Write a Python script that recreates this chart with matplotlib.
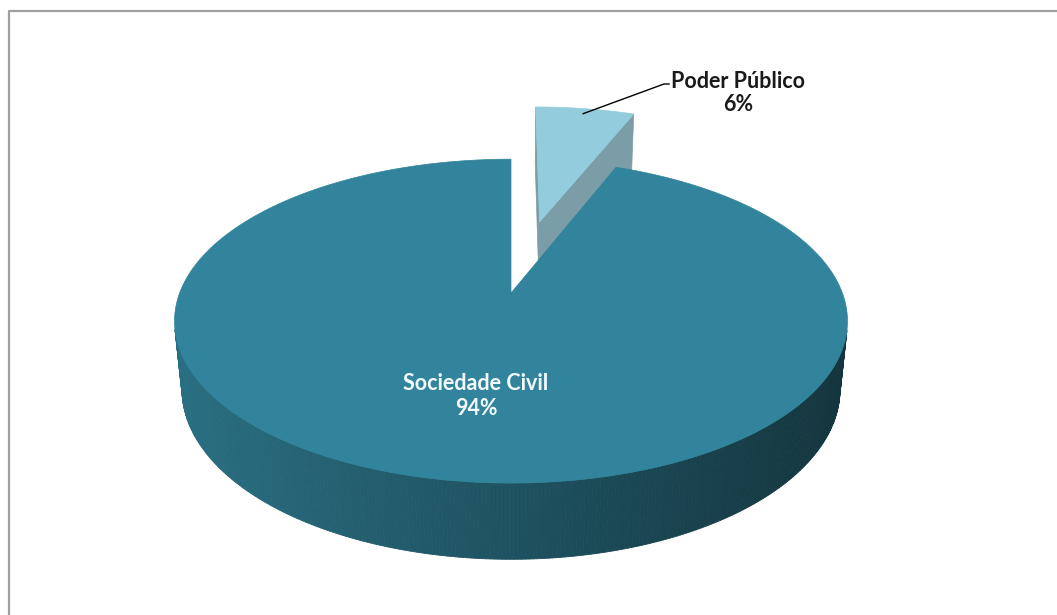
import numpy as np
import matplotlib
matplotlib.use("Agg")
from matplotlib import pyplot as plt
from matplotlib.patches import Polygon

labels = ["Poder Público", "Sociedade Civil"]
shares = [6, 94]
explode = [0.50, 0.0]

top_colors = ["#93CDDD", "#31849B"]
cut_colors = ["#7A9DA7", "#2A6F83"]

# camera / projection (pixel units)
W, H = 1057, 615
CX, CY = 511, 293
SIN_E = 0.474
COS_E = np.sqrt(1 - SIN_E ** 2)
DIST = 5.07
FOC = 1680.0
DEPTH = 0.236
CAM = np.array([0.0, -DIST * COS_E, DIST * SIN_E])


def project(x, y, z):
    d = DIST + y * COS_E - z * SIN_E
    return CX + FOC * x / d, CY - FOC * (y * SIN_E + z * COS_E) / d


def side_shade(color, sx):
    k = 0.84 - 0.44 * np.clip((sx - 175) / 670.0, 0, 1)
    rgb = np.array(matplotlib.colors.to_rgb(color))
    return tuple(rgb * k)


fig = plt.figure(figsize=(W / 100, H / 100), dpi=100)
ax = fig.add_axes([0, 0, 1, 1])
ax.set_xlim(0, W)
ax.set_ylim(H, 0)
ax.axis("off")

# chart frame
ax.plot([9, 9, W], [H, 11, 11], color="#a0a0a0", lw=1.6, solid_capstyle="butt")

fracs = np.array(shares, dtype=float) / sum(shares)
starts = np.concatenate([[0], np.cumsum(fracs)[:-1]]) * 2 * np.pi
ends = np.cumsum(fracs) * 2 * np.pi

slices = []
for i in range(len(shares)):
    mid = (starts[i] + ends[i]) / 2
    ox, oy = explode[i] * np.sin(mid), explode[i] * np.cos(mid)
    slices.append((i, starts[i], ends[i], mid, ox, oy))

# farthest slice first
slices.sort(key=lambda s: -(s[5] + 0.5 * np.cos(s[3])))

for i, a0, a1, mid, ox, oy in slices:
    th = np.linspace(a0, a1, max(int((a1 - a0) / 0.01), 4))
    rx = ox + np.sin(th)
    ry = oy + np.cos(th)

    # outer wall, drawn as narrow strips
    for j in range(len(th) - 1):
        t = (th[j] + th[j + 1]) / 2
        px, py = ox + np.sin(t), oy + np.cos(t)
        if np.sin(t) * (CAM[0] - px) + np.cos(t) * (CAM[1] - py) <= 0:
            continue
        xs = [rx[j], rx[j + 1], rx[j + 1], rx[j]]
        ys = [ry[j], ry[j + 1], ry[j + 1], ry[j]]
        zs = [0, 0, -DEPTH, -DEPTH]
        pts = [project(a, b, c) for a, b, c in zip(xs, ys, zs)]
        col = side_shade(top_colors[i], np.mean([p[0] for p in pts]))
        ax.add_patch(Polygon(pts, closed=True, fc=col, ec=col, lw=0.6))

    # cut faces
    for ang, sgn in ((a0, -1), (a1, 1)):
        nx, ny = sgn * np.cos(ang), -sgn * np.sin(ang)
        if nx * (CAM[0] - ox) + ny * (CAM[1] - oy) <= 1e-6:
            continue
        ex, ey = ox + np.sin(ang), oy + np.cos(ang)
        pts = [project(ox, oy, 0), project(ex, ey, 0),
               project(ex, ey, -DEPTH), project(ox, oy, -DEPTH)]
        ax.add_patch(Polygon(pts, closed=True, fc=cut_colors[i], ec=cut_colors[i], lw=0.5))

    # top face
    pts = [project(ox, oy, 0)] + [project(a, b, 0) for a, b in zip(rx, ry)]
    ax.add_patch(Polygon(pts, closed=True, fc=top_colors[i], ec=top_colors[i], lw=0.5))

font = ["Lato", "DejaVu Sans"]

# label for the exploded slice with leader line
i = 0
mid = (starts[i] + ends[i]) / 2
ox, oy = explode[i] * np.sin(mid), explode[i] * np.cos(mid)
lx, ly = project(ox + 0.95 * np.sin(mid), oy + 0.95 * np.cos(mid), 0)
ax.plot([lx, 664, 669], [ly, 84, 84], color="black", lw=1.0)
ax.text(738, 93, f"{labels[0]}\n{shares[0]}%", ha="center", va="center",
        fontsize=15.5, fontweight="bold", family=font, color="#1a1a1a",
        linespacing=1.1)

ax.text(476, 396, f"{labels[1]}\n{shares[1]}%", ha="center", va="center",
        fontsize=15.5, fontweight="bold", family=font, color="#f4fbfd",
        linespacing=1.2)

fig.savefig("out.png", dpi=100)
